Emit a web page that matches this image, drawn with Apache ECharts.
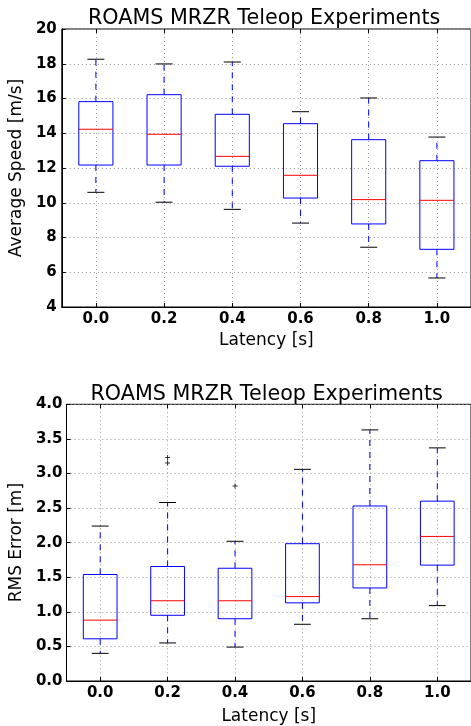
<!DOCTYPE html>
<html><head><meta charset="utf-8">
<script src="https://cdn.jsdelivr.net/npm/echarts@6.0.0/dist/echarts.min.js"></script>
<style>html,body{margin:0;padding:0;background:#fff;}#c{width:471px;height:726px;}</style>
</head><body><div id="c"></div>
<script>
const categories = ['0.0', '0.2', '0.4', '0.6', '0.8', '1.0'];

const speedLow  = [10.60, 10.03, 9.62, 8.83, 7.44, 5.67];
const speedQ1   = [12.17, 12.17, 12.10, 10.27, 8.78, 7.32];
const speedMed  = [14.23, 13.94, 12.67, 11.58, 10.18, 10.14];
const speedQ3   = [15.82, 16.22, 15.09, 14.55, 13.63, 12.42];
const speedHigh = [18.26, 17.99, 18.10, 15.24, 16.03, 13.78];

const rmsLow  = [0.40, 0.55, 0.49, 0.82, 0.90, 1.09];
const rmsQ1   = [0.61, 0.95, 0.90, 1.13, 1.345, 1.675];
const rmsMed  = [0.88, 1.16, 1.16, 1.22, 1.68, 2.09];
const rmsQ3   = [1.54, 1.655, 1.63, 1.985, 2.53, 2.60];
const rmsHigh = [2.24, 2.58, 2.02, 3.06, 3.63, 3.37];

const rmsOutlierCat = ['0.2', '0.2', '0.4'];
const rmsOutlierVal = [3.23, 3.15, 2.82];

const speedTicks = [4, 6, 8, 10, 12, 14, 16, 18, 20];
const rmsTicks = [0.0, 0.5, 1.0, 1.5, 2.0, 2.5, 3.0, 3.5, 4.0];

const titleText = 'ROAMS MRZR Teleop Experiments';
const FONT = 'DejaVu Sans';

function boxData(lo, q1, med, q3, hi) {
  return categories.map((c, i) => [i, lo[i], q1[i], med[i], q3[i], hi[i]]);
}

function renderBox(params, api) {
  const x = api.value(0);
  const lo = api.value(1), q1 = api.value(2), med = api.value(3), q3 = api.value(4), hi = api.value(5);
  const band = api.size([1, 0])[0];
  const w = band * 0.5;
  const cx = api.coord([x, lo])[0];
  const yLo = api.coord([x, lo])[1];
  const yQ1 = api.coord([x, q1])[1];
  const yMed = api.coord([x, med])[1];
  const yQ3 = api.coord([x, q3])[1];
  const yHi = api.coord([x, hi])[1];
  const blue = '#0000ff';
  return {
    type: 'group',
    children: [
      {type: 'line', shape: {x1: cx, y1: yQ3, x2: cx, y2: yHi}, style: {stroke: blue, lineWidth: 1, lineDash: [6, 6]}},
      {type: 'line', shape: {x1: cx, y1: yQ1, x2: cx, y2: yLo}, style: {stroke: blue, lineWidth: 1, lineDash: [6, 6]}},
      {type: 'line', shape: {x1: cx - w / 4, y1: yHi, x2: cx + w / 4, y2: yHi}, style: {stroke: '#000', lineWidth: 1}},
      {type: 'line', shape: {x1: cx - w / 4, y1: yLo, x2: cx + w / 4, y2: yLo}, style: {stroke: '#000', lineWidth: 1}},
      {type: 'rect', shape: {x: cx - w / 2, y: yQ3, width: w, height: yQ1 - yQ3}, style: {fill: 'none', stroke: blue, lineWidth: 1}},
      {type: 'line', shape: {x1: cx - w / 2, y1: yMed, x2: cx + w / 2, y2: yMed}, style: {stroke: '#ff0000', lineWidth: 1}}
    ]
  };
}

const gridLine = {show: true, lineStyle: {color: '#999', type: [1, 3], width: 1}};
const labelStyle = {color: '#000', fontFamily: FONT, fontSize: 15, fontWeight: 'bold'};
const nameStyle = {color: '#000', fontFamily: FONT, fontSize: 17};

function xAxes(gridIndex, gap) {
  return [{
    type: 'category', gridIndex: gridIndex, data: categories, boundaryGap: true,
    axisLine: {show: true, lineStyle: {color: '#000', width: 1}},
    axisTick: {show: true, inside: true, alignWithLabel: true, length: 4, lineStyle: {color: '#000'}},
    axisLabel: Object.assign({margin: 5}, labelStyle),
    splitLine: Object.assign({alignWithLabel: true}, gridLine),
    name: 'Latency [s]', nameLocation: 'middle', nameGap: gap, nameTextStyle: nameStyle
  }, {
    type: 'category', gridIndex: gridIndex, data: categories, position: 'top', boundaryGap: true,
    axisLine: {show: false},
    axisTick: {show: true, inside: true, alignWithLabel: true, length: 4, lineStyle: {color: '#000'}},
    axisLabel: {show: false}, splitLine: {show: false}
  }];
}

const chart = echarts.init(document.getElementById('c'), null, {renderer: 'canvas'});
chart.setOption({
  animation: false,
  backgroundColor: '#fff',
  title: [
    {text: titleText, left: 88, top: 8, padding: 0, textStyle: {fontFamily: FONT, fontSize: 20.7, fontWeight: 'normal', color: '#000'}},
    {text: titleText, left: 90.5, top: 384, padding: 0, textStyle: {fontFamily: FONT, fontSize: 20.7, fontWeight: 'normal', color: '#000'}}
  ],
  grid: [
    {left: 58, top: 29, width: 416.6, height: 278, show: true, borderColor: '#000', borderWidth: 1, containLabel: false},
    {left: 63.3, top: 404.3, width: 411, height: 278.7, show: true, borderColor: '#000', borderWidth: 1, containLabel: false}
  ],
  xAxis: xAxes(0, 25).concat(xAxes(1, 27)),
  yAxis: [{
    type: 'value', gridIndex: 0, min: speedTicks[0], max: speedTicks[speedTicks.length - 1], interval: speedTicks[1] - speedTicks[0],
    axisLine: {show: true, lineStyle: {color: '#000'}},
    axisTick: {show: true, inside: true, length: 4, lineStyle: {color: '#000'}},
    axisLabel: Object.assign({margin: 5}, labelStyle),
    splitLine: gridLine,
    name: 'Average Speed [m/s]', nameLocation: 'middle', nameGap: 27, nameTextStyle: nameStyle
  }, {
    type: 'value', gridIndex: 1, min: rmsTicks[0], max: rmsTicks[rmsTicks.length - 1], interval: rmsTicks[1] - rmsTicks[0],
    axisLine: {show: true, lineStyle: {color: '#000'}},
    axisTick: {show: true, inside: true, length: 4, lineStyle: {color: '#000'}},
    axisLabel: Object.assign({margin: 4, formatter: v => v.toFixed(1)}, labelStyle),
    splitLine: gridLine,
    name: 'RMS Error [m]', nameLocation: 'middle', nameGap: 33, nameTextStyle: nameStyle
  }],
  series: [
    {type: 'custom', xAxisIndex: 0, yAxisIndex: 0, renderItem: renderBox,
     encode: {x: 0, y: [1, 2, 3, 4, 5]}, data: boxData(speedLow, speedQ1, speedMed, speedQ3, speedHigh), z: 3},
    {type: 'custom', xAxisIndex: 2, yAxisIndex: 1, renderItem: renderBox,
     encode: {x: 0, y: [1, 2, 3, 4, 5]}, data: boxData(rmsLow, rmsQ1, rmsMed, rmsQ3, rmsHigh), z: 3},
    {type: 'scatter', xAxisIndex: 2, yAxisIndex: 1,
     data: rmsOutlierCat.map((c, i) => [categories.indexOf(c), rmsOutlierVal[i]]),
     symbol: 'path://M2,0H3V5H2Z M0,2H5V3H0Z', symbolSize: 5, itemStyle: {color: '#000'}, z: 4}
  ]
});
</script></body></html>
